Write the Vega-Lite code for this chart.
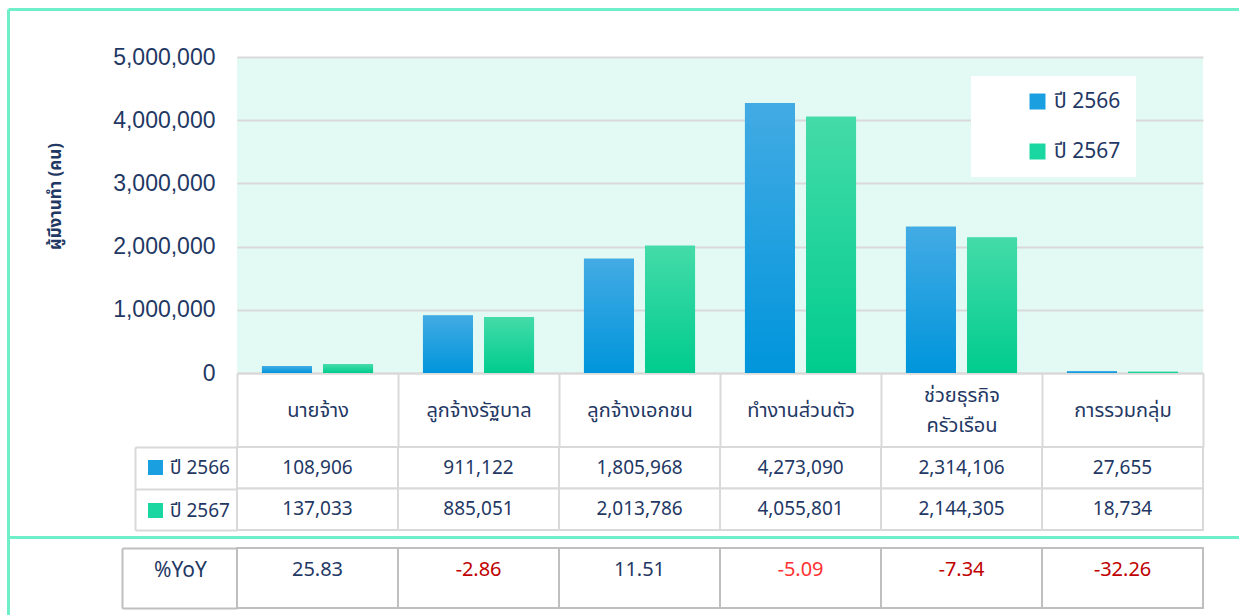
{
  "$schema": "https://vega.github.io/schema/vega-lite/v6.json",
  "background": "white",
  "padding": {"left": 6, "top": 7, "right": 5, "bottom": 5},
  "config": {
    "font": "Tahoma, 'Noto Sans Thai', 'Noto Sans', sans-serif",
    "view": {"stroke": null},
    "axis": {"labelFont": "Tahoma, 'Noto Sans Thai', 'Noto Sans', sans-serif"}
  },
  "datasets": {
    "workers": [
      {"category": "นายจ้าง", "year": "ปี 2566", "value": 108906},
      {"category": "ลูกจ้างรัฐบาล", "year": "ปี 2566", "value": 911122},
      {"category": "ลูกจ้างเอกชน", "year": "ปี 2566", "value": 1805968},
      {"category": "ทำงานส่วนตัว", "year": "ปี 2566", "value": 4273090},
      {"category": "ช่วยธุรกิจครัวเรือน", "year": "ปี 2566", "value": 2314106},
      {"category": "การรวมกลุ่ม", "year": "ปี 2566", "value": 27655},
      {"category": "นายจ้าง", "year": "ปี 2567", "value": 137033},
      {"category": "ลูกจ้างรัฐบาล", "year": "ปี 2567", "value": 885051},
      {"category": "ลูกจ้างเอกชน", "year": "ปี 2567", "value": 2013786},
      {"category": "ทำงานส่วนตัว", "year": "ปี 2567", "value": 4055801},
      {"category": "ช่วยธุรกิจครัวเรือน", "year": "ปี 2567", "value": 2144305},
      {"category": "การรวมกลุ่ม", "year": "ปี 2567", "value": 18734}
    ],
    "yoy": [
      {"category": "นายจ้าง", "row": "%YoY", "yoy": 25.83},
      {"category": "ลูกจ้างรัฐบาล", "row": "%YoY", "yoy": -2.86},
      {"category": "ลูกจ้างเอกชน", "row": "%YoY", "yoy": 11.51},
      {"category": "ทำงานส่วนตัว", "row": "%YoY", "yoy": -5.09},
      {"category": "ช่วยธุรกิจครัวเรือน", "row": "%YoY", "yoy": -7.34},
      {"category": "การรวมกลุ่ม", "row": "%YoY", "yoy": -32.26}
    ]
  },
  "bounds": "flush",
  "spacing": 74,
  "resolve": {"legend": {"color": "independent"}},
  "vconcat": [
    {
      "width": 966,
      "height": 316,
      "view": {"fill": "#E3FAF4", "stroke": null},
      "data": {"name": "workers"},
      "resolve": {"scale": {"x": "independent", "y": "independent"}, "axis": {"x": "independent", "y": "independent"}},
      "layer": [
        {
          "encoding": {
            "x": {
              "field": "category", "type": "nominal", "sort": null,
              "scale": {"paddingInner": 0.31, "paddingOuter": 0.155},
              "axis": {"title": null, "labels": false, "ticks": false, "domainColor": "#d9d9d9", "domainWidth": 2}
            },
            "xOffset": {"field": "year", "type": "nominal", "scale": {"paddingInner": 0.18, "paddingOuter": 0}},
            "y": {
              "field": "value", "type": "quantitative",
              "scale": {"domain": [0, 5000000]},
              "axis": {
                "title": "ผู้มีงานทำ (คน)", "titleFontSize": 17, "titleFontWeight": "bold", "titleColor": "#1F3864",
                "titlePadding": 48, "titleY": 139,
                "values": [0, 1000000, 2000000, 3000000, 4000000, 5000000], "format": ",.0f",
                "labelFont": "Liberation Sans", "labelFontSize": 23, "labelColor": "#1F3864", "labelPadding": 22,
                "ticks": false, "domain": false, "gridColor": "#d9d9d9", "gridWidth": 2
              }
            }
          },
          "layer": [
            {
              "mark": {"type": "bar"},
              "encoding": {
                "color": {
                  "field": "year", "type": "nominal",
                  "scale": {"domain": ["ปี 2566", "ปี 2567"], "range": ["#1AA0E0", "#1AD6A0"]},
                  "legend": {
                    "orient": "none", "legendX": 734, "legendY": 19, "title": null,
                    "fillColor": "white", "padding": 15, "symbolType": "square", "symbolSize": 256,
                    "symbolOffset": 41, "labelOffset": 6, "labelFontSize": 21, "labelColor": "#1F3864",
                    "rowPadding": 28, "symbolStrokeWidth": 0
                  }
                }
              }
            },
            {
              "transform": [{"filter": "datum.year === 'ปี 2566'"}],
              "mark": {"type": "bar", "color": {"gradient": "linear", "x1": 0, "y1": 0, "x2": 0, "y2": 1,
                "stops": [{"offset": 0, "color": "#43ABE4"}, {"offset": 1, "color": "#0095DB"}]}}
            },
            {
              "transform": [{"filter": "datum.year === 'ปี 2567'"}],
              "mark": {"type": "bar", "color": {"gradient": "linear", "x1": 0, "y1": 0, "x2": 0, "y2": 1,
                "stops": [{"offset": 0, "color": "#44DBA8"}, {"offset": 1, "color": "#00CC8E"}]}}
            }
          ]
        },
        {
          "mark": {"type": "point", "opacity": 0, "size": 0},
          "encoding": {
            "x": {
              "field": "category", "type": "nominal", "sort": null,
              "scale": {"paddingInner": 0, "paddingOuter": 0},
              "axis": {
                "orient": "top", "offset": 48, "title": null, "labels": false, "values": ["นายจ้าง"],
                "tickSize": -606, "tickOffset": -309.5, "tickColor": "#6EEFC9", "tickWidth": 3, "domain": false
              }
            },
            "y": {
              "field": "value", "type": "quantitative",
              "scale": {"domain": [0, 5000000]},
              "axis": {
                "orient": "left", "offset": 229, "title": null, "labels": false, "values": [5000000],
                "tickSize": -1240, "tickOffset": -48, "tickColor": "#6EEFC9", "tickWidth": 3,
                "domain": false, "grid": false
              }
            }
          }
        }
      ]
    },
    {
      "bounds": "flush",
      "spacing": 18,
      "vconcat": [
        {
          "width": 966,
          "height": 83,
          "data": {"name": "workers"},
          "encoding": {
            "x": {
              "field": "category", "type": "nominal", "sort": null,
              "scale": {"paddingInner": 0, "paddingOuter": 0},
              "axis": {
                "orient": "top", "title": null, "tickBand": "extent", "tickSize": 74,
                "tickColor": "#d9d9d9", "tickWidth": 2, "domain": false, "labelAngle": 0,
                "labelFontSize": 20, "labelColor": "#1F3864", "labelBaseline": "middle",
                "labelPadding": {"condition": {"test": "datum.value === 'ช่วยธุรกิจครัวเรือน'", "value": -22}, "value": -37},
                "labelLineHeight": 30, "labelLimit": 0,
                "labelExpr": "datum.value === 'ช่วยธุรกิจครัวเรือน' ? ['ช่วยธุรกิจ', 'ครัวเรือน'] : datum.value"
              }
            },
            "y": {
              "field": "year", "type": "nominal",
              "scale": {"paddingInner": 0, "paddingOuter": 0},
              "axis": {
                "title": null, "labels": false, "offset": 102, "tickBand": "extent", "tickSize": -102,
                "tickColor": "#d9d9d9", "tickWidth": 2, "domainColor": "#d9d9d9", "domainWidth": 2
              }
            }
          },
          "layer": [
            {"mark": {"type": "rect", "fill": "white", "stroke": "#d9d9d9", "strokeWidth": 2}},
            {
              "mark": {"type": "text", "fontSize": 19, "color": "#1F3864"},
              "encoding": {"text": {"field": "value", "type": "quantitative", "format": ",.0f"}}
            },
            {
              "mark": {"type": "point", "shape": "square", "filled": true, "size": 0, "opacity": 1},
              "encoding": {
                "color": {
                  "field": "year", "type": "nominal",
                  "legend": {
                    "orient": "none", "legendX": -91, "legendY": 11, "title": null, "padding": 0,
                    "symbolType": "square", "symbolSize": 225, "labelFontSize": 19, "labelColor": "#1F3864",
                    "labelOffset": 5, "rowPadding": 23, "symbolStrokeWidth": 0
                  }
                }
              }
            }
          ]
        },
        {
          "width": 966,
          "height": 60,
          "data": {"name": "yoy"},
          "resolve": {"scale": {"y": "independent"}, "axis": {"y": "independent"}},
          "layer": [
            {
              "encoding": {
                "x": {
                  "field": "category", "type": "nominal", "sort": null,
                  "scale": {"paddingInner": 0, "paddingOuter": 0}, "axis": null
                },
                "y": {
                  "field": "row", "type": "nominal",
                  "scale": {"paddingInner": 0, "paddingOuter": 0},
                  "axis": {
                    "title": null, "offset": 115, "tickBand": "extent", "tickSize": -115,
                    "tickColor": "#bfbfbf", "tickWidth": 2, "domainColor": "#bfbfbf", "domainWidth": 2,
                    "labelAlign": "center", "labelPadding": 57, "labelFontSize": 21, "labelColor": "#1F3864",
                    "labelOffset": -8
                  }
                }
              },
              "layer": [
                {"mark": {"type": "rect", "fill": "white", "stroke": "#bfbfbf", "strokeWidth": 2}},
                {
                  "mark": {"type": "text", "fontSize": 20, "dy": -8},
                  "encoding": {
                    "text": {"field": "yoy", "type": "quantitative", "format": ".2f"},
                    "color": {
                      "condition": [
                        {"test": "datum.yoy >= 0", "value": "#1F3864"},
                        {"test": "datum.category === 'ทำงานส่วนตัว'", "value": "#FF3333"}
                      ],
                      "value": "#C00000"
                    }
                  }
                }
              ]
            },
            {
              "mark": {"type": "point", "opacity": 0, "size": 0},
              "encoding": {
                "y": {
                  "field": "row", "type": "nominal",
                  "scale": {"paddingInner": 0, "paddingOuter": 0},
                  "axis": {
                    "orient": "left", "offset": 229, "title": null, "labels": false,
                    "tickSize": -1240, "tickOffset": -41, "tickColor": "#6EEFC9", "tickWidth": 3, "domain": false
                  }
                }
              }
            }
          ]
        }
      ]
    }
  ]
}
